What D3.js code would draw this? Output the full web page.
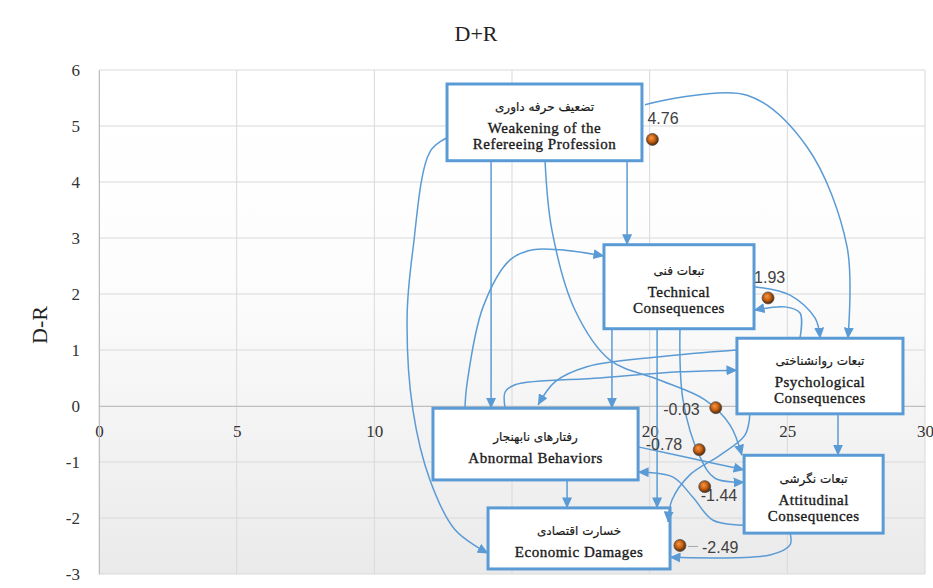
<!DOCTYPE html>
<html>
<head>
<meta charset="utf-8">
<script src="https://cdn.jsdelivr.net/npm/d3@7"></script>
<style>
  body { margin: 0; background: #fff; }
  svg { display: block; }
</style>
</head>
<body>
<svg id="chart" width="933" height="588"></svg>
<script>
// values
var nodeIds = ['weak', 'tech', 'psych', 'abn', 'att', 'econ'];
var dPlusR = [20.1, 24.3, 22.4, 21.8, 22.0, 21.1];
var dMinusR = [4.76, 1.93, -0.03, -0.78, -1.44, -2.49];
var xTicks = [0, 5, 10, 15, 20, 25, 30];
var yTicks = [-3, -2, -1, 0, 1, 2, 3, 4, 5, 6];

var persianNames = ['تضعیف حرفه داوری', 'تبعات فنی', 'تبعات روانشناختی',
    'رفتارهای نابهنجار', 'تبعات نگرشی', 'خسارت اقتصادی'];
var englishNames = [
    ['Weakening of the', 'Refereeing Profession'],
    ['Technical', 'Consequences'],
    ['Psychological', 'Consequences'],
    ['Abnormal Behaviors'],
    ['Attitudinal', 'Consequences'],
    ['Economic Damages']
];

// layout of annotation boxes, in chart units: [x0, x1, top, bottom]
var boxLayout = {
    weak:  [12.64, 19.72, 5.75, 4.38],
    tech:  [18.34, 23.79, 2.88, 1.38],
    psych: [23.17, 29.20, 1.21, -0.14],
    abn:   [12.13, 19.58, -0.04, -1.32],
    att:   [23.43, 28.48, -0.88, -2.27],
    econ:  [14.13, 20.74, -1.82, -2.91]
};

// label offsets in px: [dx, dy, anchor]
var labelOffsets = [[-5, -21, 'start'], [-14, -21, 'start'], [-16, 2, 'end'],
    [-17, -5, 'end'], [-4, 9, 'start'], [22, 2, 'start']];

// arrow routes, in chart units
var arrows = [
    [[19.83, 5.38], [23.54, 5.55], [25.71, 4.63], [27.17, 2.84], [27.20, 1.21]],
    [[12.64, 4.79], [12.02, 4.54], [11.40, 2.79], [11.19, 1.59], [11.40, -0.07], [12.02, -1.32], [12.93, -2.21], [14.13, -2.63]],
    [[14.24, 4.38], [14.24, -0.04]],
    [[19.18, 4.38], [19.18, 2.88]],
    [[16.20, 4.38], [16.45, 3.14], [17.29, 1.71], [18.56, 0.82], [20.38, 0.46], [22.01, 0.11], [22.92, -0.34], [23.35, -0.88]],
    [[13.29, -0.04], [13.37, 0.41], [13.95, 1.77], [14.93, 2.61], [15.76, 2.79], [16.74, 2.79], [18.34, 2.68]],
    [[14.75, -0.04], [14.75, 0.25], [15.11, 0.38], [18.20, 0.50], [21.10, 0.61], [23.17, 0.64]],
    [[19.58, -0.73], [21.46, -0.93], [23.43, -1.14]],
    [[17.00, -1.32], [17.00, -1.82]],
    [[18.63, 1.38], [18.63, -0.04]],
    [[20.27, 1.38], [20.27, -1.82]],
    [[21.10, 1.38], [21.21, 0.11], [21.83, -0.91], [22.37, -1.29], [23.43, -1.36]],
    [[23.79, 2.13], [25.10, 1.98], [26.01, 1.57], [26.19, 1.21]],
    [[25.46, 1.21], [25.46, 1.66], [24.92, 1.77], [23.79, 1.71]],
    [[23.17, 1.00], [20.38, 0.88], [17.72, 0.70], [16.56, 0.43], [15.95, 0.02]],
    [[26.84, -0.14], [26.84, -0.88]],
    [[23.64, -0.14], [23.46, -0.52], [22.55, -0.88], [21.46, -1.23], [20.81, -1.68], [20.67, -2.07]],
    [[23.43, -2.13], [22.30, -2.04], [21.57, -1.63], [20.85, -1.27], [19.58, -1.18]],
    [[25.10, -2.27], [25.10, -2.48], [24.37, -2.66], [20.74, -2.70]]
];

var BLUE = '#5b9bd5',
    SERIF = '"Liberation Serif", "Times New Roman", serif';

var svg = d3.select('#chart');

var x = d3.scaleLinear().domain([0, 30]).range([99, 925]),
    y = d3.scaleLinear().domain([-3, 6]).range([574, 70]);

var defs = svg.append('defs');

var bg = defs.append('linearGradient')
    .attr('id', 'plotBg')
    .attr('x1', 0).attr('y1', 0).attr('x2', 0).attr('y2', 1);
bg.append('stop').attr('offset', '0%').attr('stop-color', '#ffffff');
bg.append('stop').attr('offset', '40%').attr('stop-color', '#fdfdfd');
bg.append('stop').attr('offset', '100%').attr('stop-color', '#eaeaea');

var ball = defs.append('radialGradient')
    .attr('id', 'ball')
    .attr('cx', '45%').attr('cy', '45%').attr('r', '55%')
    .attr('fx', '40%').attr('fy', '35%');
ball.append('stop').attr('offset', '0%').attr('stop-color', '#f39a4f');
ball.append('stop').attr('offset', '55%').attr('stop-color', '#c9600f');
ball.append('stop').attr('offset', '100%').attr('stop-color', '#4a2508');

defs.append('marker')
    .attr('id', 'head')
    .attr('markerUnits', 'userSpaceOnUse')
    .attr('viewBox', '0 0 11 10')
    .attr('refX', 10.5).attr('refY', 5)
    .attr('markerWidth', 11).attr('markerHeight', 10)
    .attr('orient', 'auto')
    .append('path')
    .attr('d', 'M0,0 L11,5 L0,10 Z')
    .style('fill', BLUE);

// plot area
svg.append('rect')
    .attr('x', x(0)).attr('y', y(6))
    .attr('width', x(30) - x(0)).attr('height', y(-3) - y(6))
    .style('fill', 'url(#plotBg)');

var grid = svg.append('g').attr('class', 'grid');
grid.selectAll('line.v').data(xTicks).enter().append('line')
    .attr('x1', function (d) { return x(d); })
    .attr('x2', function (d) { return x(d); })
    .attr('y1', y(6)).attr('y2', y(-3))
    .style('stroke', '#d9d9d9');
grid.selectAll('line.h').data(yTicks).enter().append('line')
    .attr('x1', x(0)).attr('x2', x(30))
    .attr('y1', function (d) { return y(d); })
    .attr('y2', function (d) { return y(d); })
    .style('stroke', '#d9d9d9');

var xAxis = svg.append('g')
    .attr('transform', 'translate(0,' + y(0) + ')')
    .call(d3.axisBottom(x).tickValues(xTicks).tickFormat(String)
        .tickSize(0).tickPadding(19));
var yAxis = svg.append('g')
    .attr('transform', 'translate(' + x(0) + ',0)')
    .call(d3.axisLeft(y).tickValues(yTicks).tickFormat(String)
        .tickSize(0).tickPadding(19));

[xAxis, yAxis].forEach(function (ax) {
    ax.select('.domain').style('stroke', '#bfbfbf');
    ax.selectAll('text')
        .style('font-family', SERIF)
        .style('font-size', '17px')
        .style('fill', '#333');
});

svg.append('text')
    .attr('x', 476).attr('y', 41)
    .attr('text-anchor', 'middle')
    .style('font-family', SERIF)
    .style('font-size', '22px')
    .style('fill', '#222')
    .text('D+R');

svg.append('text')
    .attr('transform', 'translate(47,325) rotate(-90)')
    .attr('text-anchor', 'middle')
    .style('font-family', SERIF)
    .style('font-size', '22px')
    .style('fill', '#222')
    .text('D-R');

// boxes
var boxes = svg.append('g').attr('class', 'boxes');
nodeIds.forEach(function (id, i) {
    var b = boxLayout[id],
        x0 = x(b[0]), x1 = x(b[1]), t = y(b[2]), bt = y(b[3]),
        cx = (x0 + x1) / 2,
        lines = englishNames[i],
        blockH = 21 + 16 * (lines.length - 1),
        top = (t + bt) / 2 + 3 - blockH / 2;

    var g = boxes.append('g');
    g.append('rect')
        .attr('x', x0).attr('y', t)
        .attr('width', x1 - x0).attr('height', bt - t)
        .style('fill', '#fff')
        .style('stroke', BLUE)
        .style('stroke-width', 3);

    g.append('text')
        .attr('x', cx).attr('y', top)
        .attr('dy', '0.35em')
        .attr('text-anchor', 'middle')
        .attr('direction', 'rtl')
        .style('font-family', '"DejaVu Sans", sans-serif')
        .style('font-size', '12px')
        .style('fill', '#1a1a1a')
        .style('stroke', '#1a1a1a')
        .style('stroke-width', 0.2)
        .text(persianNames[i]);

    lines.forEach(function (ln, k) {
        g.append('text')
            .attr('x', cx).attr('y', top + 21 + 16 * k)
            .attr('dy', '0.35em')
            .attr('text-anchor', 'middle')
            .style('font-family', SERIF)
            .style('font-size', '15px')
            .style('letter-spacing', '0.5px')
            .style('fill', '#1a1a1a')
            .style('stroke', '#1a1a1a')
            .style('stroke-width', 0.35)
            .text(ln);
    });
});

// arrows
var line = d3.line()
    .x(function (d) { return x(d[0]); })
    .y(function (d) { return y(d[1]); })
    .curve(d3.curveCatmullRom.alpha(0.5));

svg.append('g').attr('class', 'arrows')
    .selectAll('path').data(arrows).enter().append('path')
    .attr('d', line)
    .attr('marker-end', 'url(#head)')
    .style('fill', 'none')
    .style('stroke', BLUE)
    .style('stroke-width', 1.5);

// points and labels
var pts = svg.append('g').attr('class', 'points');

// leader line of the last label
pts.append('line')
    .attr('x1', x(dPlusR[5]) + 8).attr('x2', x(dPlusR[5]) + 18)
    .attr('y1', y(dMinusR[5]) + 1).attr('y2', y(dMinusR[5]) + 1)
    .style('stroke', '#a6a6a6');

pts.selectAll('circle').data(dMinusR).enter().append('circle')
    .attr('cx', function (d, i) { return x(dPlusR[i]); })
    .attr('cy', function (d) { return y(d); })
    .attr('r', 6)
    .style('fill', 'url(#ball)')
    .style('stroke', '#595959')
    .style('stroke-width', 0.8);

pts.selectAll('text').data(dMinusR).enter().append('text')
    .attr('x', function (d, i) { return x(dPlusR[i]) + labelOffsets[i][0]; })
    .attr('y', function (d, i) { return y(d) + labelOffsets[i][1]; })
    .attr('dy', '0.35em')
    .attr('text-anchor', function (d, i) { return labelOffsets[i][2]; })
    .style('font-family', '"Liberation Sans", Arial, sans-serif')
    .style('font-size', '16px')
    .style('fill', '#404040')
    .text(function (d) { return d.toFixed(2); });
</script>
</body>
</html>
